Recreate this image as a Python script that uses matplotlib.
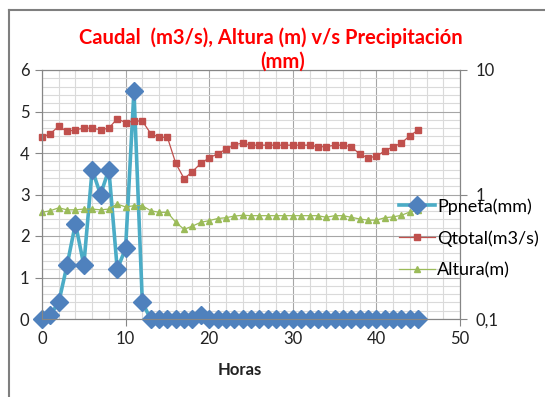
import matplotlib.pyplot as plt
from matplotlib.lines import Line2D
from matplotlib.ticker import FixedLocator, MultipleLocator, NullFormatter, NullLocator

plt.rcParams['font.family'] = ['Lato', 'DejaVu Sans']

# Horas de la tormenta
horas = list(range(46))

# Precipitación neta (mm)
ppneta = [0, 0.1, 0.4, 1.3, 2.3, 1.3, 3.6, 3.0, 3.6, 1.2, 1.7, 5.5, 0.4, 0, 0,
          0, 0, 0, 0, 0.1, 0, 0, 0, 0, 0, 0, 0, 0, 0, 0,
          0, 0, 0, 0, 0, 0, 0, 0, 0, 0, 0, 0, 0, 0, 0, 0]

# Caudal total (m3/s)
qtotal = [2.88, 3.09, 3.52, 3.21, 3.31, 3.41, 3.41, 3.31, 3.41, 4.07,
          3.77, 3.89, 3.89, 3.09, 2.88, 2.88, 1.78, 1.34, 1.53, 1.78,
          1.97, 2.12, 2.31, 2.51, 2.59, 2.49, 2.49, 2.49, 2.49, 2.49,
          2.49, 2.49, 2.49, 2.42, 2.42, 2.49, 2.49, 2.42, 2.11, 1.97,
          2.03, 2.24, 2.42, 2.59, 2.97, 3.29]

# Altura (m)
altura = [0.719, 0.741, 0.782, 0.753, 0.753, 0.764, 0.764, 0.753, 0.764, 0.838,
          0.794, 0.813, 0.813, 0.741, 0.719, 0.719, 0.598, 0.525, 0.558, 0.598,
          0.617, 0.641, 0.651, 0.671, 0.681, 0.676, 0.676, 0.676, 0.676, 0.676,
          0.676, 0.676, 0.676, 0.676, 0.656, 0.676, 0.676, 0.656, 0.636, 0.622,
          0.622, 0.651, 0.661, 0.681, 0.724, 0.747]

fig = plt.figure(figsize=(5.45, 3.97), dpi=100)
ax = fig.add_axes([42/545, 78/397, 418/545, 249/397])
ax2 = ax.twinx()

grid_major = '#a6a6a6'
grid_minor = '#dadada'
eje = '#868686'

# eje izquierdo: precipitación
ax.plot(horas, ppneta, color='#4bacc6', lw=2.6, marker='D', ms=9.5,
        mfc='#4f81bd', mec='#4f81bd', label='Ppneta(mm)', zorder=3, clip_on=False)
ax.set_xlim(0, 50)
ax.set_ylim(0, 6)
ax.xaxis.set_major_locator(MultipleLocator(10))
ax.xaxis.set_minor_locator(MultipleLocator(2))
ax.yaxis.set_major_locator(MultipleLocator(1))
ax.yaxis.set_minor_locator(MultipleLocator(0.2))
ax.grid(which='major', color=grid_major, lw=0.8)
ax.grid(which='minor', color=grid_minor, lw=0.8)
ax.set_axisbelow(True)
ax.tick_params(which='major', direction='out', length=5, color=eje,
               labelsize=12, labelcolor='#222222', pad=4)
ax.tick_params(which='minor', length=0)

# eje derecho logarítmico: caudal y altura
ax2.set_yscale('log')
ax2.plot(horas, qtotal, color='#c0504d', lw=0.9, marker='s', ms=4.5,
         mfc='#c0504d', mec='#c0504d', label='Qtotal(m3/s)', clip_on=False)
ax2.plot(horas, altura, color='#9bbb59', lw=0.9, marker='^', ms=5,
         mfc='#9bbb59', mec='#9bbb59', label='Altura(m)', clip_on=False)
ax2.set_ylim(0.1, 10)
ax2.yaxis.set_major_locator(FixedLocator([0.1, 1, 10]))
ax2.yaxis.set_minor_locator(NullLocator())
ax2.set_yticklabels(['0,1', '1', '10'])
ax2.yaxis.set_minor_formatter(NullFormatter())
ax2.tick_params(direction='out', length=5, color=eje, labelsize=12,
                labelcolor='#222222', pad=6)

for a in (ax, ax2):
    for s in a.spines.values():
        s.set_color(eje)
        s.set_linewidth(0.8)

# título en dos líneas
fig.text(271/545, 1 - 38/397, 'Caudal  (m3/s), Altura (m) v/s Precipitación',
         ha='center', va='center', color='red', fontsize=14.5, fontweight='bold')
fig.text(283/545, 1 - 62/397, '(mm)',
         ha='center', va='center', color='red', fontsize=14.5, fontweight='bold')
fig.text(0.44, 0.068, 'Horas', ha='center', va='center', fontsize=12,
         fontweight='bold', color='#222222')

handles = [ax.get_lines()[0]] + ax2.get_lines()
fig.legend(handles, [h.get_label() for h in handles], loc='upper left',
           bbox_to_anchor=(392/545, 1 - 191/397), frameon=False, fontsize=13,
           handlelength=2.0, handletextpad=0.1, labelspacing=0.85,
           borderaxespad=0)

# marco del área del gráfico
fig.add_artist(Line2D([9/545, 9/545], [0, 1 - 10/397], color='#7f7f7f', lw=1.5))
fig.add_artist(Line2D([9/545, 1], [1 - 10/397, 1 - 10/397], color='#7f7f7f', lw=1.5))

fig.savefig('out.png', dpi=100)
